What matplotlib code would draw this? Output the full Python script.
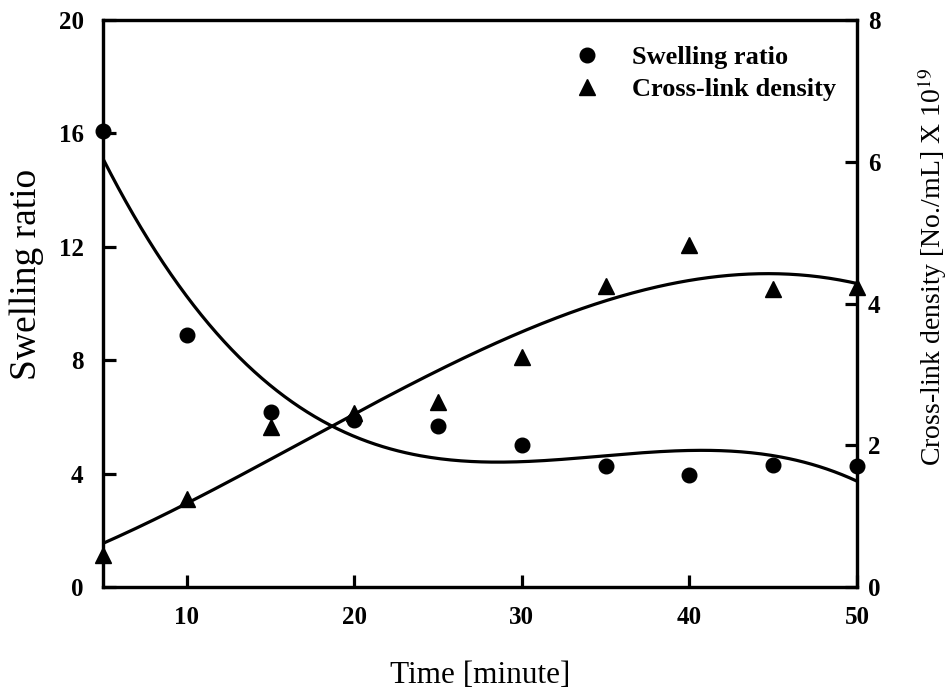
import numpy as np
import matplotlib
matplotlib.use("Agg")
import matplotlib.pyplot as plt
from matplotlib.lines import Line2D

time_min = [5, 10, 15, 20, 25, 30, 35, 40, 45, 50]
swelling_ratio = [16.1, 8.9, 6.17, 5.89, 5.68, 5.01, 4.27, 3.95, 4.30, 4.27]
crosslink_density = [0.45, 1.24, 2.26, 2.45, 2.61, 3.24, 4.25, 4.82, 4.21, 4.23]

x_ticks = [10, 20, 30, 40, 50]
left_ticks = [0, 4, 8, 12, 16, 20]
right_ticks = [0, 2, 4, 6, 8]

plt.rcParams['font.family'] = ['Liberation Serif', 'DejaVu Serif']
plt.rcParams['mathtext.fontset'] = 'stix'

fig = plt.figure(figsize=(9.48, 6.91), dpi=100)
ax = fig.add_axes([103/948, 1-587/691, (857-103)/948, (587-20)/691])
ax2 = ax.twinx()

# cubic polynomial fits of the data (trend lines)
xs = np.linspace(5, 50, 300)
p_sw = np.polyfit(time_min, swelling_ratio, 3)
p_cl = np.polyfit(time_min, crosslink_density, 3)
ax.plot(xs, np.polyval(p_sw, xs), color='black', lw=2.3, zorder=3)
ax2.plot(xs, np.polyval(p_cl, xs), color='black', lw=2.3, zorder=3)

ax.plot(time_min, swelling_ratio, 'o', color='black', ms=10.5, clip_on=False, zorder=4)
ax2.plot(time_min, crosslink_density, '^', color='black', ms=11, clip_on=False, zorder=4)

ax.set_xlim(5, 50)
ax.set_ylim(0, 20)
ax2.set_ylim(0, 8)
ax.set_xticks(x_ticks)
ax.set_yticks(left_ticks)
ax2.set_yticks(right_ticks)

for a in (ax, ax2):
    for s in a.spines.values():
        s.set_linewidth(2.3)
ax.tick_params(axis='both', direction='in', length=9, width=2.3, labelsize=18, pad=14)
ax2.tick_params(axis='y', direction='in', length=9, width=2.3, labelsize=18, pad=8)
for lab in ax.get_xticklabels() + ax.get_yticklabels() + ax2.get_yticklabels():
    lab.set_fontweight('bold')

ax.set_xlabel('Time [minute]', fontsize=22.5)
ax.xaxis.set_label_coords(0.5, -0.13)
ax.set_ylabel('Swelling ratio', fontsize=27)
ax.yaxis.set_label_coords(-0.078, 0.552)
ax2.set_ylabel('Cross-link density [No./mL] X 10$^{19}$', fontsize=20)
ax2.yaxis.set_label_coords(1.078, 0.564)

handles = [Line2D([], [], marker='o', ls='', color='black', ms=10.5),
           Line2D([], [], marker='^', ls='', color='black', ms=11)]
ax2.legend(handles, ['Swelling ratio', 'Cross-link density'], loc='upper left',
           bbox_to_anchor=(0.625, 0.955), frameon=False, borderpad=0, borderaxespad=0,
           handlelength=1.0, handletextpad=1.2, labelspacing=0.33,
           prop={'family': 'Liberation Serif', 'weight': 'bold', 'size': 19})

fig.savefig('out.png', dpi=100)
